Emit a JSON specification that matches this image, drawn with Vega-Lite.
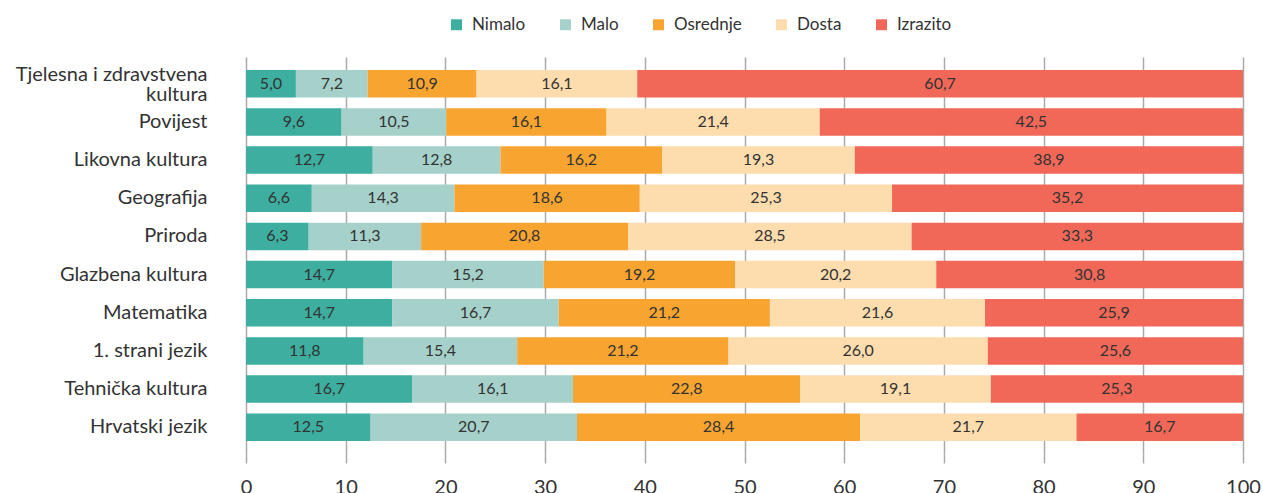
{
  "$schema": "https://vega.github.io/schema/vega-lite/v6.json",
  "width": 997,
  "height": 397,
  "autosize": {"type": "none"},
  "padding": {"left": 246, "top": 57, "right": 20, "bottom": 39},
  "background": "white",
  "config": {
    "font": "Lato",
    "view": {"stroke": null}
  },
  "data": {
    "values": [
      {"s": "Tjelesna i zdravstvena kultura", "k": "Nimalo", "v": 5.0},
      {"s": "Tjelesna i zdravstvena kultura", "k": "Malo", "v": 7.2},
      {"s": "Tjelesna i zdravstvena kultura", "k": "Osrednje", "v": 10.9},
      {"s": "Tjelesna i zdravstvena kultura", "k": "Dosta", "v": 16.1},
      {"s": "Tjelesna i zdravstvena kultura", "k": "Izrazito", "v": 60.7},
      {"s": "Povijest", "k": "Nimalo", "v": 9.6},
      {"s": "Povijest", "k": "Malo", "v": 10.5},
      {"s": "Povijest", "k": "Osrednje", "v": 16.1},
      {"s": "Povijest", "k": "Dosta", "v": 21.4},
      {"s": "Povijest", "k": "Izrazito", "v": 42.5},
      {"s": "Likovna kultura", "k": "Nimalo", "v": 12.7},
      {"s": "Likovna kultura", "k": "Malo", "v": 12.8},
      {"s": "Likovna kultura", "k": "Osrednje", "v": 16.2},
      {"s": "Likovna kultura", "k": "Dosta", "v": 19.3},
      {"s": "Likovna kultura", "k": "Izrazito", "v": 38.9},
      {"s": "Geografija", "k": "Nimalo", "v": 6.6},
      {"s": "Geografija", "k": "Malo", "v": 14.3},
      {"s": "Geografija", "k": "Osrednje", "v": 18.6},
      {"s": "Geografija", "k": "Dosta", "v": 25.3},
      {"s": "Geografija", "k": "Izrazito", "v": 35.2},
      {"s": "Priroda", "k": "Nimalo", "v": 6.3},
      {"s": "Priroda", "k": "Malo", "v": 11.3},
      {"s": "Priroda", "k": "Osrednje", "v": 20.8},
      {"s": "Priroda", "k": "Dosta", "v": 28.5},
      {"s": "Priroda", "k": "Izrazito", "v": 33.3},
      {"s": "Glazbena kultura", "k": "Nimalo", "v": 14.7},
      {"s": "Glazbena kultura", "k": "Malo", "v": 15.2},
      {"s": "Glazbena kultura", "k": "Osrednje", "v": 19.2},
      {"s": "Glazbena kultura", "k": "Dosta", "v": 20.2},
      {"s": "Glazbena kultura", "k": "Izrazito", "v": 30.8},
      {"s": "Matematika", "k": "Nimalo", "v": 14.7},
      {"s": "Matematika", "k": "Malo", "v": 16.7},
      {"s": "Matematika", "k": "Osrednje", "v": 21.2},
      {"s": "Matematika", "k": "Dosta", "v": 21.6},
      {"s": "Matematika", "k": "Izrazito", "v": 25.9},
      {"s": "1. strani jezik", "k": "Nimalo", "v": 11.8},
      {"s": "1. strani jezik", "k": "Malo", "v": 15.4},
      {"s": "1. strani jezik", "k": "Osrednje", "v": 21.2},
      {"s": "1. strani jezik", "k": "Dosta", "v": 26.0},
      {"s": "1. strani jezik", "k": "Izrazito", "v": 25.6},
      {"s": "Tehnička kultura", "k": "Nimalo", "v": 16.7},
      {"s": "Tehnička kultura", "k": "Malo", "v": 16.1},
      {"s": "Tehnička kultura", "k": "Osrednje", "v": 22.8},
      {"s": "Tehnička kultura", "k": "Dosta", "v": 19.1},
      {"s": "Tehnička kultura", "k": "Izrazito", "v": 25.3},
      {"s": "Hrvatski jezik", "k": "Nimalo", "v": 12.5},
      {"s": "Hrvatski jezik", "k": "Malo", "v": 20.7},
      {"s": "Hrvatski jezik", "k": "Osrednje", "v": 28.4},
      {"s": "Hrvatski jezik", "k": "Dosta", "v": 21.7},
      {"s": "Hrvatski jezik", "k": "Izrazito", "v": 16.7}
    ]
  },
  "transform": [
    {"calculate": "indexof(['Nimalo','Malo','Osrednje','Dosta','Izrazito'], datum.k)", "as": "o"},
    {"stack": "v", "groupby": ["s"], "sort": [{"field": "o", "order": "ascending"}], "offset": "normalize", "as": ["v0", "v1"]},
    {"calculate": "(datum.v0 + datum.v1) / 2", "as": "mid"},
    {"calculate": "replace(format(datum.v, '.1f'), '.', ',')", "as": "lbl"}
  ],
  "encoding": {
    "y": {
      "field": "s",
      "type": "nominal",
      "title": null,
      "sort": ["Tjelesna i zdravstvena kultura", "Povijest", "Likovna kultura", "Geografija", "Priroda", "Glazbena kultura", "Matematika", "1. strani jezik", "Tehnička kultura", "Hrvatski jezik"],
      "scale": {"paddingInner": 0.28, "paddingOuter": 0.34},
      "axis": {
        "domain": false,
        "ticks": false,
        "grid": false,
        "labelPadding": 39,
        "labelFontSize": 20,
        "labelColor": "#333333",
        "labelLineHeight": 20,
        "labelLimit": 300,
        "labelOffset": {"condition": {"test": "datum.value == 'Tjelesna i zdravstvena kultura'", "value": -9}, "value": 0},
        "labelExpr": "datum.value == 'Tjelesna i zdravstvena kultura' ? ['Tjelesna i zdravstvena', 'kultura'] : datum.value"
      }
    }
  },
  "layer": [
    {
      "mark": {"type": "bar"},
      "encoding": {
        "x": {
          "field": "v0",
          "type": "quantitative",
          "title": null,
          "scale": {"domain": [0, 1], "nice": false},
          "axis": {
            "values": [0, 0.1, 0.2, 0.3, 0.4, 0.5, 0.6, 0.7, 0.8, 0.9, 1],
            "labelExpr": "format(datum.value * 100, 'd')",
            "domain": false,
            "grid": true,
            "gridColor": "#aaaaaa",
            "gridWidth": 1.5,
            "ticks": true,
            "tickColor": "#aaaaaa",
            "tickWidth": 1.5,
            "tickSize": 9,
            "labelPadding": 14,
            "labelFontSize": 20,
            "labelColor": "#333333",
            "labelFlush": false
          }
        },
        "x2": {"field": "v1"},
        "color": {
          "field": "k",
          "type": "nominal",
          "scale": {
            "domain": ["Nimalo", "Malo", "Osrednje", "Dosta", "Izrazito"],
            "range": ["#3DAE9F", "#A6D1CA", "#F7A431", "#FDDCAE", "#F26858"]
          },
          "legend": {
            "orient": "none",
            "legendX": 202,
            "legendY": -41,
            "direction": "horizontal",
            "title": null,
            "symbolType": "square",
            "symbolSize": 120,
            "symbolStrokeWidth": 0,
            "labelFontSize": 17,
            "labelColor": "#333333",
            "labelOffset": 7,
            "columnPadding": 31,
            "padding": 0
          }
        }
      }
    },
    {
      "mark": {"type": "text", "fontSize": 16, "color": "#333333", "baseline": "middle", "align": "center"},
      "encoding": {
        "x": {"field": "mid", "type": "quantitative"},
        "text": {"field": "lbl"}
      }
    }
  ]
}
